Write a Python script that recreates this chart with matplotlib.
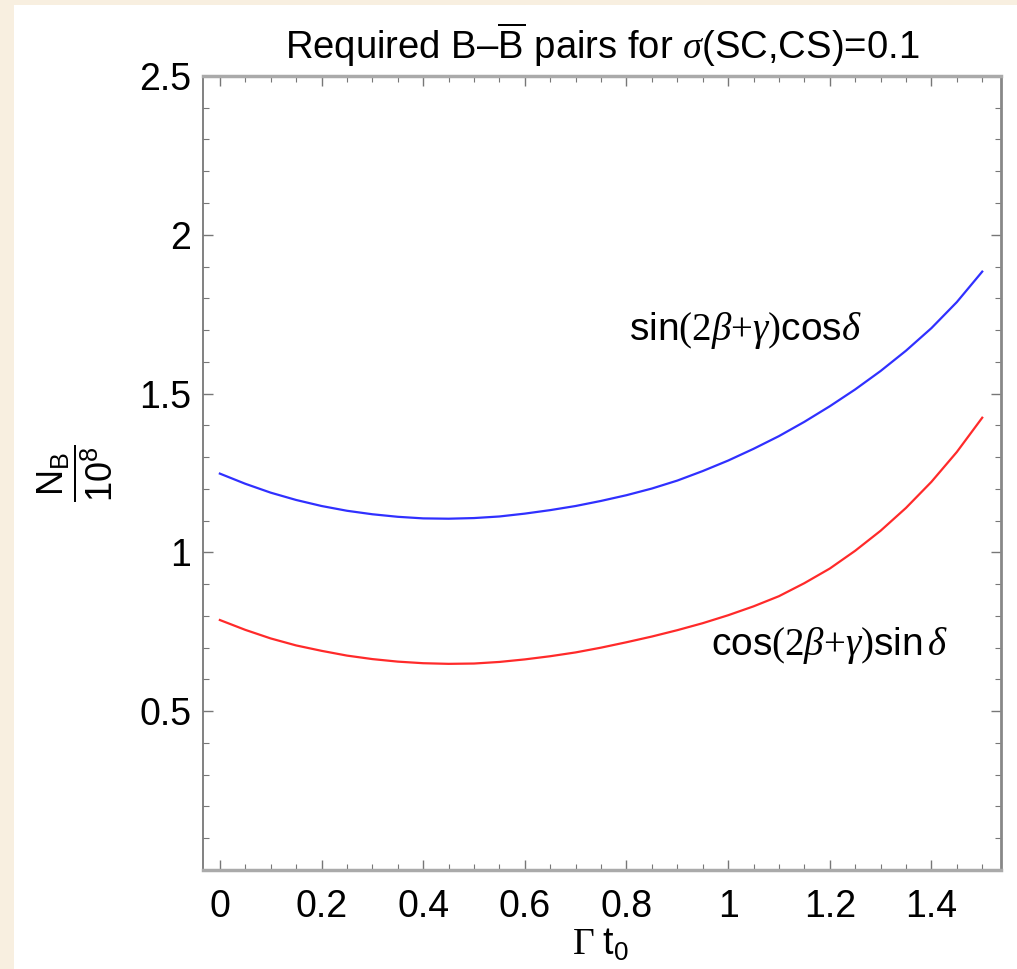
import numpy as np
import matplotlib
matplotlib.use("Agg")
import matplotlib.pyplot as plt
from matplotlib.patches import Rectangle
from matplotlib.ticker import MultipleLocator

# values
gamma_t0 = [0.0, 0.05, 0.1, 0.15, 0.2, 0.25, 0.3, 0.35, 0.4, 0.45,
            0.5, 0.55, 0.6, 0.65, 0.7, 0.75, 0.8, 0.85, 0.9, 0.95,
            1.0, 1.05, 1.1, 1.15, 1.2, 1.25, 1.3, 1.35, 1.4, 1.45, 1.5]
nb_sin2bg_cosd = [1.248, 1.216, 1.188, 1.165, 1.146, 1.131, 1.120, 1.112, 1.107, 1.106,
                  1.108, 1.113, 1.122, 1.133, 1.146, 1.162, 1.180, 1.201, 1.226, 1.256,
                  1.289, 1.326, 1.366, 1.411, 1.460, 1.513, 1.571, 1.635, 1.706, 1.788, 1.884]
nb_cos2bg_sind = [0.787, 0.756, 0.729, 0.707, 0.690, 0.675, 0.664, 0.656, 0.651, 0.649,
                  0.650, 0.655, 0.663, 0.673, 0.685, 0.700, 0.717, 0.735, 0.755, 0.777,
                  0.802, 0.830, 0.862, 0.903, 0.949, 1.005, 1.068, 1.140, 1.222, 1.316, 1.424]

xticks = [0, 0.2, 0.4, 0.6, 0.8, 1.0, 1.2, 1.4]
xticklabels = ["0", "0.2", "0.4", "0.6", "0.8", "1", "1.2", "1.4"]
yticks = [0.5, 1.0, 1.5, 2.0, 2.5]
yticklabels = ["0.5", "1", "1.5", "2", "2.5"]

plt.rcParams["font.family"] = ["Liberation Sans", "DejaVu Sans"]
plt.rcParams["mathtext.fontset"] = "custom"
plt.rcParams["mathtext.rm"] = "Liberation Serif"
plt.rcParams["mathtext.it"] = "Liberation Serif:italic"
plt.rcParams["mathtext.sf"] = "Liberation Sans"

fig = plt.figure(figsize=(10.17, 9.69), dpi=100)
fig.patch.set_facecolor("white")
cream = "#f8efe0"
fig.patches.append(Rectangle((0, 0), 14 / 1017, 1, transform=fig.transFigure,
                             facecolor=cream, edgecolor="none", zorder=-10))
fig.patches.append(Rectangle((0, 1 - 5 / 969), 1, 5 / 969, transform=fig.transFigure,
                             facecolor=cream, edgecolor="none", zorder=-10))

ax = fig.add_axes([0.1992, 0.1022, 0.9843 - 0.1992, 0.9216 - 0.1022])
ax.plot(gamma_t0, nb_sin2bg_cosd, color="#3030ff", lw=1.6)
ax.plot(gamma_t0, nb_cos2bg_sind, color="#ff2a2a", lw=1.6)

ax.set_xlim(-0.034, 1.537)
ax.set_ylim(0, 2.5)
ax.set_xticks(xticks)
ax.set_xticklabels(xticklabels)
ax.set_yticks(yticks)
ax.set_yticklabels(yticklabels)
ax.xaxis.set_minor_locator(MultipleLocator(0.05))
ax.yaxis.set_minor_locator(MultipleLocator(0.1))
ax.tick_params(which="both", direction="in", top=True, right=True, colors="#777777",
               labelcolor="black")
ax.tick_params(which="major", length=7, width=1.0, labelsize=27)
ax.tick_params(which="minor", length=4, width=0.8)
ax.tick_params(axis="x", pad=14)
ax.tick_params(axis="y", pad=8)

ax.spines["top"].set_color("#aaaaaa")
ax.spines["top"].set_linewidth(2.5)
ax.spines["bottom"].set_color("#aaaaaa")
ax.spines["bottom"].set_linewidth(2.5)
ax.spines["left"].set_color("#777777")
ax.spines["left"].set_linewidth(1.3)
ax.spines["right"].set_color("#888888")
ax.spines["right"].set_linewidth(2.0)

ax.text(1.033, 1.70, r"sin$(2\beta{+}\gamma)$cos$\delta$", fontsize=28,
        ha="center", va="center")
ax.text(1.20, 0.708, r"cos$(2\beta{+}\gamma)$sin$\,\delta$", fontsize=28,
        ha="center", va="center")

fig.text(0.592, 0.9536, r"Required B–$\overline{\mathsf{B}}$ pairs for $\sigma$(SC,CS)=0.1",
         fontsize=27.5, ha="center", va="center")
fig.text(0.074, 0.512, r"$\dfrac{\mathsf{N_B}}{\mathsf{10^8}}$", fontsize=26,
         rotation=90, ha="center", va="center")
fig.text(0.59, 0.0247, r"$\Gamma\ \mathsf{t_0}$", fontsize=27, ha="center", va="center")

fig.savefig("out.png", dpi=100)
